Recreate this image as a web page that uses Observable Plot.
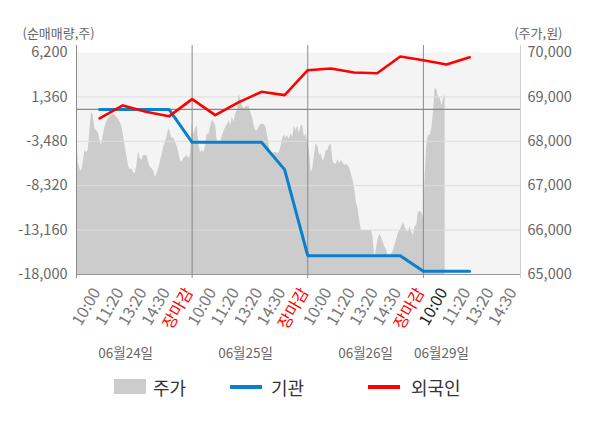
<!DOCTYPE html>
<html><head><meta charset="utf-8">
<script src="https://cdn.jsdelivr.net/npm/d3@7"></script>
<script src="https://cdn.jsdelivr.net/npm/@observablehq/plot@0.6"></script>
<style>
body{margin:0;background:#fff;font-family:"Noto Sans CJK KR","Noto Sans",sans-serif;}
#wrap{position:relative;width:600px;height:428px;overflow:hidden;}
#wrap svg{position:absolute;left:0;top:0;}
.lg{position:absolute;}
.lgt{position:absolute;top:376px;height:22px;line-height:22px;font-size:18px;color:#333;white-space:nowrap;}
</style></head><body><div id="wrap"></div>
<script>
// ---- data ----
const days = ["06월24일", "06월25일", "06월26일", "06월29일"];
const timeLabels = ["10:00", "11:20", "13:20", "14:30", "장마감"];
const leftTicks = [6200, 1360, -3480, -8320, -13160, -18000];
const rightTicks = [65000, 66000, 67000, 68000, 69000, 70000];
// 외국인 / 기관 net volume at each time slot (10:00, 11:20, 13:20, 14:30, 장마감 per day)
const foreign = [-980, 435, -250, -760, 1120, -620, 760, 1915, 1555, 4270, 4455, 4020, 3945, 5760, 5360, 4890, 5685];
const institution = [0, 0, 0, 0, -3590, -3590, -3590, -3590, -6565, -15950, -15950, -15950, -15950, -15950, -17650, -17650, -17650];
// 주가 intraday (equally spaced samples per day)
const price0624 = [68465,67530,67380,67320,67530,67790,67750,67790,68240,68650,68580,68280,68240,68190,68020,67900,68130,68320,68430,68500,68560,68590,68620,68580,68540,68500,68430,68350,68130,67900,67680,67450,67360,67380,67300,67270,67450,67770,67610,67570,67680,67680,67680,67530,67420,67380,67340,67190,67270,67380,67530,67680,67870,67980,68090,68280,68200,68050,68090,67980,67900,67750,67570,67520,67620,67640,67680,67610,67680];
const price0625 = [68380,68130,68280,68350,67940,67740,67790,67740,67900,68170,68140,68320,68470,68430,68350,68020,67980,67980,68110,68220,68320,68370,68470,68350,68540,68430,68620,68690,69060,68950,68800,68730,68780,68780,68780,68650,68540,68350,68240,68240,68320,68370,68380,68380,68320,68130,67900,67680,67720,67750,67750,67720,67750,67870,68050,68140,68070,68130,68040,68170,68090,68350,68240,68350,68170,68350,68350,68090,68170];
const price0626 = [67980,67790,67300,67380,67680,67940,67900,67680,67720,67570,67610,67790,67790,67900,67940,67570,67490,67490,67590,67490,67570,67530,67450,67490,67450,67400,67270,67120,66930,66630,66480,66220,65990,65990,65990,65990,65990,65990,65990,65840,65360,65580,65810,65900,65840,65730,65620,65550,65420,65420,65470,65510,65660,65770,65920,65990,66070,66180,66070,65990,65960,66070,65960,65880,66070,66110,66410,66410,66410];
const price0629 = [66260,67160,67900,68140,68130,68280,68650,69180,69180,68990,68970,68800,68950,69060];

// ---- derived ----
const SAMPLES = 69, SLOTS = 5, XMAX = 3.84;
const Y0 = leftTicks[leftTicks.length - 1], Y1 = leftTicks[0];
const P0 = rightTicks[0], P1 = rightTicks[rightTicks.length - 1];
const toV = p => Y0 + (p - P0) * (Y1 - Y0) / (P1 - P0);
const fromV = v => P0 + (v - Y0) * (P1 - P0) / (Y1 - Y0);
const fmt = v => Math.round(v).toLocaleString("en-US");

const priceData = [price0624, price0625, price0626, price0629]
  .flatMap((arr, d) => arr.map((p, i) => ({x: d + i / SAMPLES, v: toV(p)})));
const slotX = i => Math.floor(i / SLOTS) + (i % SLOTS + 1) / SLOTS;
const foreignData = foreign.map((v, i) => ({x: slotX(i), v}));
const instData = institution.map((v, i) => ({x: slotX(i), v}));

const ticks = [];
days.forEach((_, d) => timeLabels.forEach((t, k) => {
  const x = d + (k + 1) / SLOTS;
  if (x <= XMAX) ticks.push({x, t, kind: k === SLOTS - 1 ? "close" : (d === days.length - 1 && k === 0 ? "now" : "time")});
}));
const tickPos = kind => ticks.filter(o => o.kind === kind).map(o => o.x);
const tickLab = x => ticks.find(o => o.x === x).t;
const datePos = [0.425, 1.462, 2.5, 3.157];
const dateLab = x => days[datePos.indexOf(x)];

const ext = (Y1 - Y0) / 222;
const timeAxis = (kind, fill) => Plot.axisX({ticks: tickPos(kind), tickFormat: tickLab, tickRotate: -60, tickSize: 0, tickPadding: 15, dx: -3, fontSize: 16, fill, label: null});

const plot = Plot.plot({
  width: 600, height: 368,
  marginLeft: 76, marginRight: 80, marginTop: 52, marginBottom: 94,
  style: {fontFamily: '"Noto Sans CJK KR","Noto Sans",sans-serif', fontSize: "14px", color: "#666", background: "transparent"},
  x: {domain: [0, XMAX]},
  y: {domain: [Y0, Y1]},
  marks: [
    Plot.frame({fill: "#f4f4f4", stroke: "none"}),
    Plot.areaY(priceData, {x: "x", y1: Y0, y2: "v", fill: "#cccccc"}),
    Plot.ruleY(leftTicks.filter(t => t > Y0 && t < Y1), {stroke: "#dcdcdc"}),
    Plot.ruleY([0], {stroke: "#888", strokeWidth: 1.2}),
    Plot.ruleY([Y0], {stroke: "#999"}),
    Plot.ruleX([0, 1, 2, 3], {y1: Y0 - 4 * ext, y2: Y1 + 7 * ext, stroke: "#8a8a8a"}),
    Plot.ruleX([XMAX], {y1: Y0 - 4 * ext, y2: Y1 + 7 * ext, stroke: "#cfcfcf"}),
    Plot.line(instData, {x: "x", y: "v", stroke: "#0a80cc", strokeWidth: 3}),
    Plot.line(foreignData, {x: "x", y: "v", stroke: "#ff0000", strokeWidth: 2.6}),
    Plot.axisY({anchor: "left", ticks: leftTicks, tickFormat: fmt, tickSize: 0, tickPadding: 9, fontSize: 14.5, fill: "#666", label: null}),
    Plot.axisY({anchor: "right", ticks: rightTicks.map(toV), tickFormat: v => fmt(fromV(v)), tickSize: 0, tickPadding: 7, fontSize: 14.5, fill: "#666", label: null}),
    timeAxis("time", "#777"),
    timeAxis("close", "#ff0000"),
    timeAxis("now", "#222"),
    Plot.axisX({ticks: datePos, tickFormat: dateLab, tickSize: 0, tickPadding: 74, fontSize: 13.5, fill: "#666", label: null}),
    Plot.text(["(순매매량,주)"], {frameAnchor: "top-left", dx: -54, dy: -19, textAnchor: "start", lineAnchor: "middle", fontSize: 13, fill: "#666"}),
    Plot.text(["(주가,원)"], {frameAnchor: "top-right", dx: 42, dy: -19, textAnchor: "end", lineAnchor: "middle", fontSize: 13, fill: "#666"})
  ]
});
const wrap = document.getElementById("wrap");
wrap.appendChild(plot);

// legend
const legend = [
  {name: "주가", type: "rect", color: "#cccccc", left: 114, text: 153},
  {name: "기관", type: "line", color: "#0a80cc", left: 230, text: 271},
  {name: "외국인", type: "line", color: "#ff0000", left: 368, text: 411}
];
legend.forEach(l => {
  const sw = document.createElement("div");
  sw.className = "lg";
  sw.style.left = l.left + "px";
  sw.style.width = "32px";
  sw.style.background = l.color;
  if (l.type === "rect") { sw.style.top = "379px"; sw.style.height = "15px"; }
  else { sw.style.top = "385px"; sw.style.height = "3.5px"; }
  wrap.appendChild(sw);
  const tx = document.createElement("div");
  tx.className = "lgt";
  tx.style.left = l.text + "px";
  tx.textContent = l.name;
  wrap.appendChild(tx);
});
</script></body></html>
